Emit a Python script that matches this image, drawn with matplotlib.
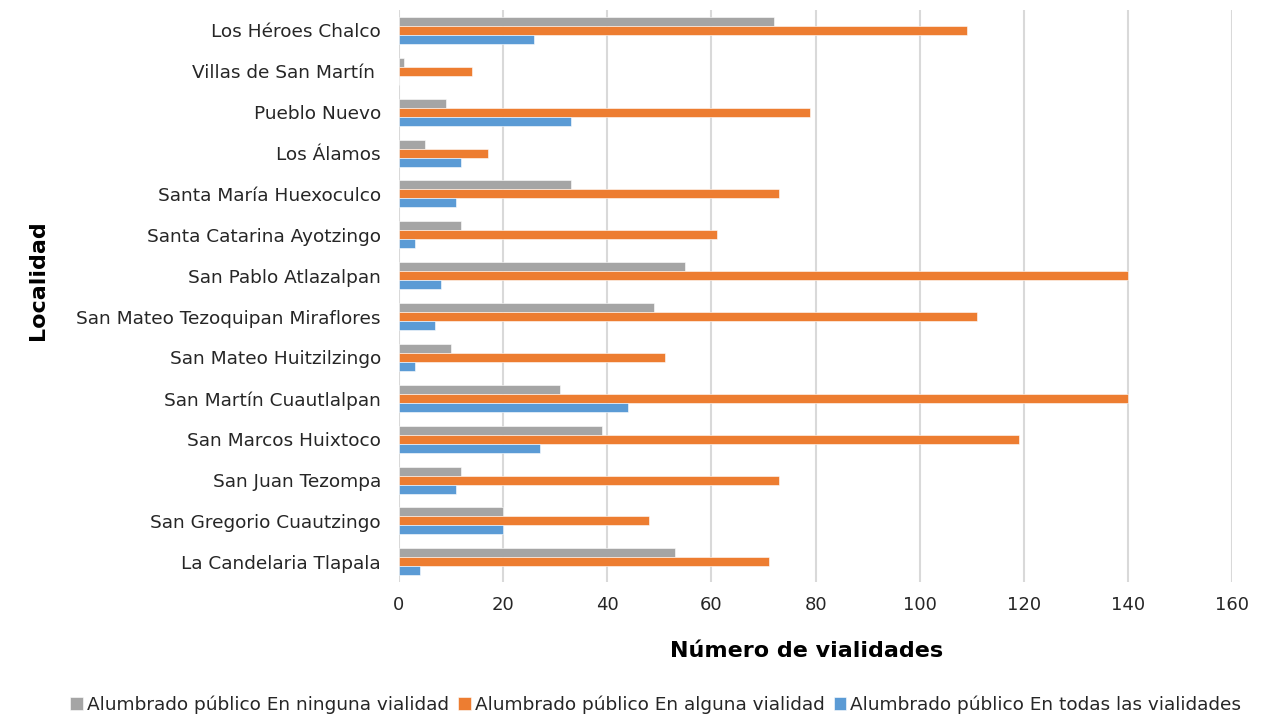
import matplotlib
matplotlib.use("Agg")
import matplotlib.pyplot as plt
import numpy as np

localidades = [
    "La Candelaria Tlapala",
    "San Gregorio Cuautzingo",
    "San Juan Tezompa",
    "San Marcos Huixtoco",
    "San Martín Cuautlalpan",
    "San Mateo Huitzilzingo",
    "San Mateo Tezoquipan Miraflores",
    "San Pablo Atlazalpan",
    "Santa Catarina Ayotzingo",
    "Santa María Huexoculco",
    "Los Álamos",
    "Pueblo Nuevo",
    "Villas de San Martín ",
    "Los Héroes Chalco",
]
ninguna = [53, 20, 12, 39, 31, 10, 49, 55, 12, 33, 5, 9, 1, 72]
alguna = [71, 48, 73, 119, 140, 51, 111, 140, 61, 73, 17, 79, 14, 109]
todas = [4, 20, 11, 27, 44, 3, 7, 8, 3, 11, 12, 33, 0, 26]

series_names = [
    "Alumbrado público En ninguna vialidad",
    "Alumbrado público En alguna vialidad",
    "Alumbrado público En todas las vialidades",
]
colors = ["#A5A5A5", "#ED7D31", "#5B9BD5"]
x_ticks = [0, 20, 40, 60, 80, 100, 120, 140, 160]

plt.rcParams["font.family"] = ["DejaVu Sans"]

fig = plt.figure(figsize=(12.78, 7.17), dpi=100)
ax = fig.add_axes([0.3122, 0.188, 0.652, 0.798])

y = np.arange(len(localidades))
h = 0.22
for vals, off, col, name in zip([ninguna, alguna, todas], [h, 0, -h], colors, series_names):
    ax.barh(y + off, vals, height=h, color=col, edgecolor="white", linewidth=0.4,
            label=name, zorder=3)

ax.set_xlim(0, 160)
ax.set_ylim(-0.5, len(localidades) - 0.5)
ax.set_xticks(x_ticks)
ax.set_xticklabels([str(t) for t in x_ticks], fontsize=13, color="#262626")
ax.set_yticks(y)
ax.set_yticklabels(localidades, fontsize=13.3, color="#262626")
ax.tick_params(axis="both", length=0)
ax.tick_params(axis="y", pad=13)
ax.tick_params(axis="x", pad=10)

ax.grid(axis="x", color="#D9D9D9", linewidth=1.5, zorder=0)
for s in ax.spines.values():
    s.set_visible(False)

fig.text(0.631, 0.092, "Número de vialidades", fontsize=16, fontweight="bold",
         ha="center", va="center")
fig.text(0.03, 0.61, "Localidad", rotation=90, fontsize=16, fontweight="bold",
         ha="center", va="center")

leg = fig.legend(loc="center", bbox_to_anchor=(0.513, 0.017), ncol=3, frameon=False,
                 fontsize=13.3, handlelength=0.7, handleheight=0.7, handletextpad=0.2,
                 columnspacing=0.5, labelcolor="#262626")

fig.savefig("out.png", dpi=100)
